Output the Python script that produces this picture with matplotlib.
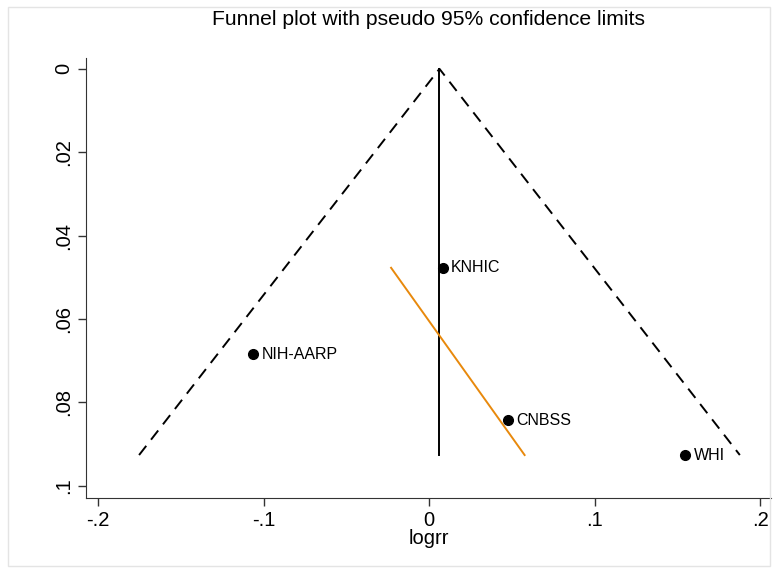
import numpy as np
import matplotlib.pyplot as plt
from matplotlib.patches import Rectangle

plt.rcParams['font.family'] = ['Liberation Sans', 'DejaVu Sans']

# study estimates: log relative risk and its standard error
studies = ['KNHIC', 'NIH-AARP', 'CNBSS', 'WHI']
logrr = [0.0083, -0.1061, 0.0476, 0.1547]
se = [0.0477, 0.0684, 0.0843, 0.0926]

xticks = [-0.2, -0.1, 0, 0.1, 0.2]
xtick_labels = ['-.2', '-.1', '0', '.1', '.2']
yticks = [0, 0.02, 0.04, 0.06, 0.08, 0.1]
ytick_labels = ['0', '.02', '.04', '.06', '.08', '.1']

b = np.array(logrr)
s = np.array(se)

# fixed-effect pooled estimate
w = 1 / s**2
pooled = np.sum(w * b) / np.sum(w)
smax = s.max()

# Egger regression: b/se on 1/se
slope, icpt = np.polyfit(1 / s, b / s, 1)
se_line = np.array([s.min(), s.max()])
egger_x = slope + icpt * se_line

fig = plt.figure(figsize=(7.77, 5.69), dpi=100)
fig.patches.append(Rectangle((8 / 777, 3 / 569), 762 / 777, 559 / 569,
                             transform=fig.transFigure, fill=False,
                             edgecolor='#e4e4e4', lw=1))
ax = fig.add_axes([86 / 777, 1 - 498 / 569, 685 / 777, 440 / 569])

# pseudo 95% limits
ax.plot([pooled - 1.96 * smax, pooled, pooled + 1.96 * smax], [smax, 0, smax],
        color='black', lw=1.4, ls=(0, (6, 4)))
ax.plot([pooled, pooled], [0, smax], color='black', lw=1.4)
ax.plot(egger_x, se_line, color='#e8890c', lw=1.4)

ax.plot(b, s, 'o', color='black', ms=7)
for name, x, y in zip(studies, b, s):
    ax.annotate(name, (x, y), xytext=(6, 0), textcoords='offset points',
                va='center', ha='left', fontsize=11.5)

ax.set_xlim(-0.2073, 0.2066)
ax.set_ylim(0.1029, -0.0026)
ax.set_xticks(xticks)
ax.set_xticklabels(xtick_labels, fontsize=14.5)
ax.set_yticks(yticks)
ax.set_yticklabels(ytick_labels, fontsize=14.5, rotation=90, va='center')
ax.tick_params(direction='out', length=6, width=1, colors='#333333',
               labelcolor='black', pad=3)
for side in ['top', 'right']:
    ax.spines[side].set_visible(False)
for side in ['left', 'bottom']:
    ax.spines[side].set_color('#333333')
ax.set_xlabel('logrr', fontsize=14.5, labelpad=0)
ax.set_title('Funnel plot with pseudo 95% confidence limits', fontsize=15.2,
             pad=24)

fig.savefig('out.png', dpi=100)
